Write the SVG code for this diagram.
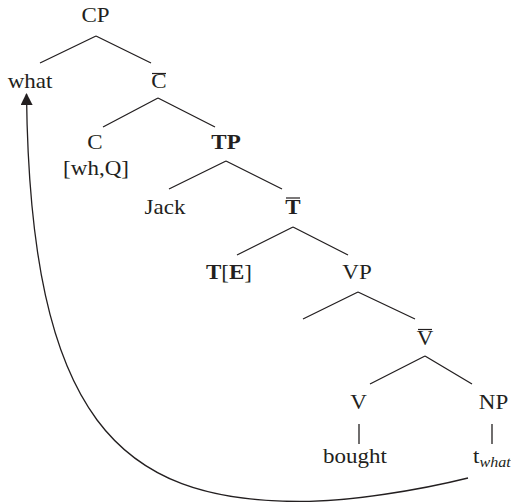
<svg xmlns="http://www.w3.org/2000/svg" width="511" height="502" viewBox="0 0 511 502">
  <style>
    .lbl { font-family: "Liberation Serif", "Times New Roman", serif; font-size: 20px; fill: #231f20; text-anchor: middle; }
    .start { text-anchor: start; }
    .b { font-weight: bold; }
    .edge { stroke: #231f20; stroke-width: 1.3; fill: none; }
    .bar { stroke: #231f20; stroke-width: 1.2; }
  </style>
  <defs>
    <marker id="head" viewBox="0 0 12 12" markerWidth="12" markerHeight="12" refX="11" refY="6" orient="auto" markerUnits="userSpaceOnUse">
      <path d="M0,0 L12,6 L0,12 z" fill="#231f20"/>
    </marker>
  </defs>

  <!-- tree edges and the movement arrow -->
  <g id="connectors">
    <path class="edge" d="M96,36 L40,63 M96,36 L151,63"/>
    <path class="edge" d="M158,98 L103,127 M158,98 L215,127"/>
    <path class="edge" d="M226,161 L169,189 M226,161 L282,189"/>
    <path class="edge" d="M293,227 L237,255 M293,227 L348,255"/>
    <path class="edge" d="M358,292 L303,319 M358,292 L415,319"/>
    <path class="edge" d="M425,356 L370,384 M425,356 L472,384"/>
    <path class="edge" d="M359,424 L359,444"/>
    <path class="edge" d="M492,424 L492,444"/>
    <path class="edge" marker-end="url(#head)" d="M468,478 C420,490 350,501.5 300,501.5 C120,501.5 30,420 26.5,94"/>
  </g>

  <g id="cp"><text class="lbl" transform="translate(95.5 22) scale(1.15 1)">CP</text></g>
  <g id="what"><text class="lbl" transform="translate(30 88) scale(1.15 1)">what</text></g>
  <g id="c-bar">
    <text class="lbl" transform="translate(159 88) scale(1.15 1)">C</text>
    <line class="bar" x1="152" y1="73.5" x2="166" y2="73.5"/>
  </g>
  <g id="c">
    <text class="lbl" transform="translate(95 149) scale(1.15 1)">C</text>
    <text class="lbl" transform="translate(96 175) scale(1.15 1)">[wh,Q]</text>
  </g>
  <g id="tp"><text class="lbl b" transform="translate(226 149) scale(1.15 1)">TP</text></g>
  <g id="jack"><text class="lbl" transform="translate(165 214) scale(1.15 1)">Jack</text></g>
  <g id="t-bar">
    <text class="lbl b" transform="translate(293 214) scale(1.15 1)">T</text>
    <line class="bar" x1="286" y1="198" x2="300" y2="198" stroke-width="1.6"/>
  </g>
  <g id="t-e"><text class="lbl" transform="translate(229 279) scale(1.15 1)"><tspan class="b">T</tspan>[<tspan class="b">E</tspan>]</text></g>
  <g id="vp"><text class="lbl" transform="translate(357 279) scale(1.15 1)">VP</text></g>
  <g id="v-bar">
    <text class="lbl" transform="translate(425 345) scale(1.15 1)">V</text>
    <line class="bar" x1="418" y1="329.5" x2="432" y2="329.5"/>
  </g>
  <g id="v"><text class="lbl" transform="translate(358.5 409) scale(1.15 1)">V</text></g>
  <g id="np"><text class="lbl" transform="translate(493.5 409) scale(1.15 1)">NP</text></g>
  <g id="bought"><text class="lbl" transform="translate(355 463) scale(1.15 1)">bought</text></g>
  <g id="trace"><text class="lbl start" transform="translate(473 463) scale(1.15 1)">t<tspan font-style="italic" font-size="14" dy="4">what</tspan></text></g>
</svg>
